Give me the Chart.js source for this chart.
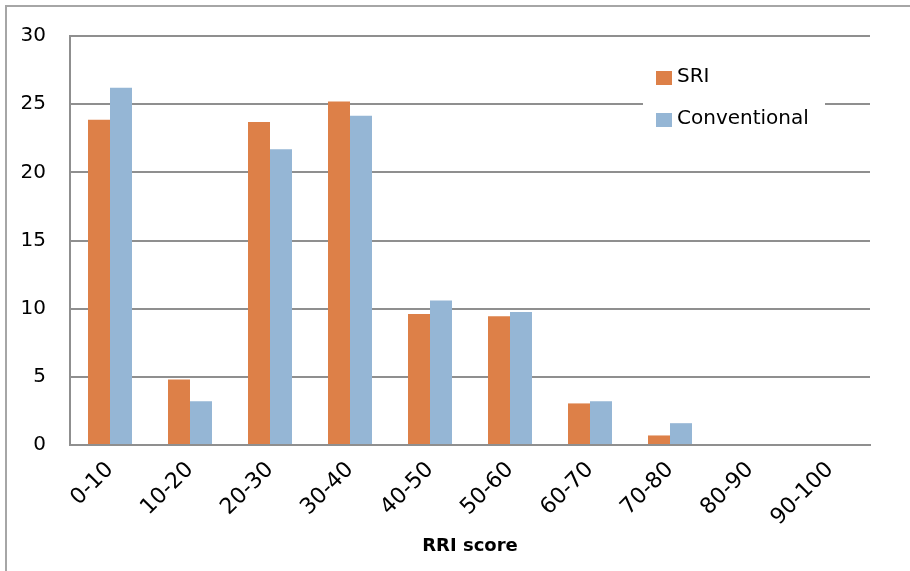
<!DOCTYPE html>
<html>
<head>
<meta charset="utf-8">
<script src="https://cdn.jsdelivr.net/npm/chart.js@4"></script>
<style>
  html, body { margin: 0; padding: 0; background: #fff; }
  #wrap { position: relative; width: 910px; height: 571px; }
</style>
</head>
<body>
<div id="wrap"><canvas id="c" width="910" height="571"></canvas></div>
<script>
// RRI score distribution, share of farms (%) per score band
const categories = ['0-10', '10-20', '20-30', '30-40', '40-50', '50-60', '60-70', '70-80', '80-90', '90-100'];
const sriValues = [23.85, 4.8, 23.7, 25.2, 9.6, 9.45, 3.05, 0.7, 0, 0];
const conventionalValues = [26.2, 3.2, 21.7, 24.15, 10.6, 9.75, 3.2, 1.6, 0, 0];
const yTicks = [0, 5, 10, 15, 20, 25, 30];

const FONT = '"DejaVu Sans", sans-serif';
const GRID = '#8f8f8f';

// thin frame along the top and left edge of the figure
const framePlugin = {
  id: 'frame',
  beforeDraw(chart) {
    const ctx = chart.ctx;
    ctx.save();
    ctx.fillStyle = '#fff';
    ctx.fillRect(0, 0, chart.width, chart.height);
    ctx.strokeStyle = '#a6a6a6';
    ctx.lineWidth = 2;
    ctx.beginPath();
    ctx.moveTo(6, chart.height);
    ctx.lineTo(6, 6);
    ctx.lineTo(chart.width, 6);
    ctx.stroke();
    ctx.restore();
  }
};

// legend on a white panel inside the plot area
const legendPlugin = {
  id: 'boxLegend',
  afterDatasetsDraw(chart) {
    const ctx = chart.ctx;
    ctx.save();
    ctx.fillStyle = '#fff';
    ctx.fillRect(643, 58, 182, 82);
    ctx.font = '20px ' + FONT;
    ctx.textBaseline = 'middle';
    chart.data.datasets.forEach((ds, i) => {
      const y = 77 + i * 42;
      ctx.fillStyle = ds.backgroundColor;
      ctx.fillRect(656, y - 6, 16, 14);
      ctx.fillStyle = '#000';
      ctx.fillText(ds.label, 677, y);
    });
    ctx.restore();
  }
};

new Chart(document.getElementById('c'), {
  type: 'bar',
  data: {
    labels: categories,
    datasets: [
      { label: 'SRI', data: sriValues, backgroundColor: '#DD8048' },
      { label: 'Conventional', data: conventionalValues, backgroundColor: '#95B6D5' }
    ]
  },
  options: {
    responsive: false,
    animation: false,
    devicePixelRatio: 1,
    layout: { padding: { left: 0, right: 40, top: 34, bottom: 0 } },
    datasets: { bar: { categoryPercentage: 0.55, barPercentage: 1.0, borderWidth: 0 } },
    plugins: {
      legend: { display: false },
      tooltip: { enabled: false }
    },
    scales: {
      x: {
        grid: { display: false, drawTicks: false },
        border: { display: true, color: GRID, width: 2 },
        ticks: {
          color: '#000',
          font: { family: FONT, size: 22 },
          minRotation: 45,
          maxRotation: 45,
          padding: 12,
          autoSkip: false
        },
        title: {
          display: true,
          text: 'RRI score',
          color: '#000',
          font: { family: FONT, size: 18, weight: 'bold' },
          padding: { top: 0, bottom: 14 }
        },
        afterFit(scale) { scale.height = 126; }
      },
      y: {
        min: 0,
        max: 30,
        afterBuildTicks(scale) { scale.ticks = yTicks.map(v => ({ value: v })); },
        grid: { color: GRID, lineWidth: 2, drawTicks: false },
        border: { display: true, color: GRID, width: 2 },
        ticks: {
          color: '#000',
          font: { family: FONT, size: 20 },
          padding: 24
        },
        afterFit(scale) { scale.width = 70; }
      }
    }
  },
  plugins: [framePlugin, legendPlugin]
});
</script>
</body>
</html>
